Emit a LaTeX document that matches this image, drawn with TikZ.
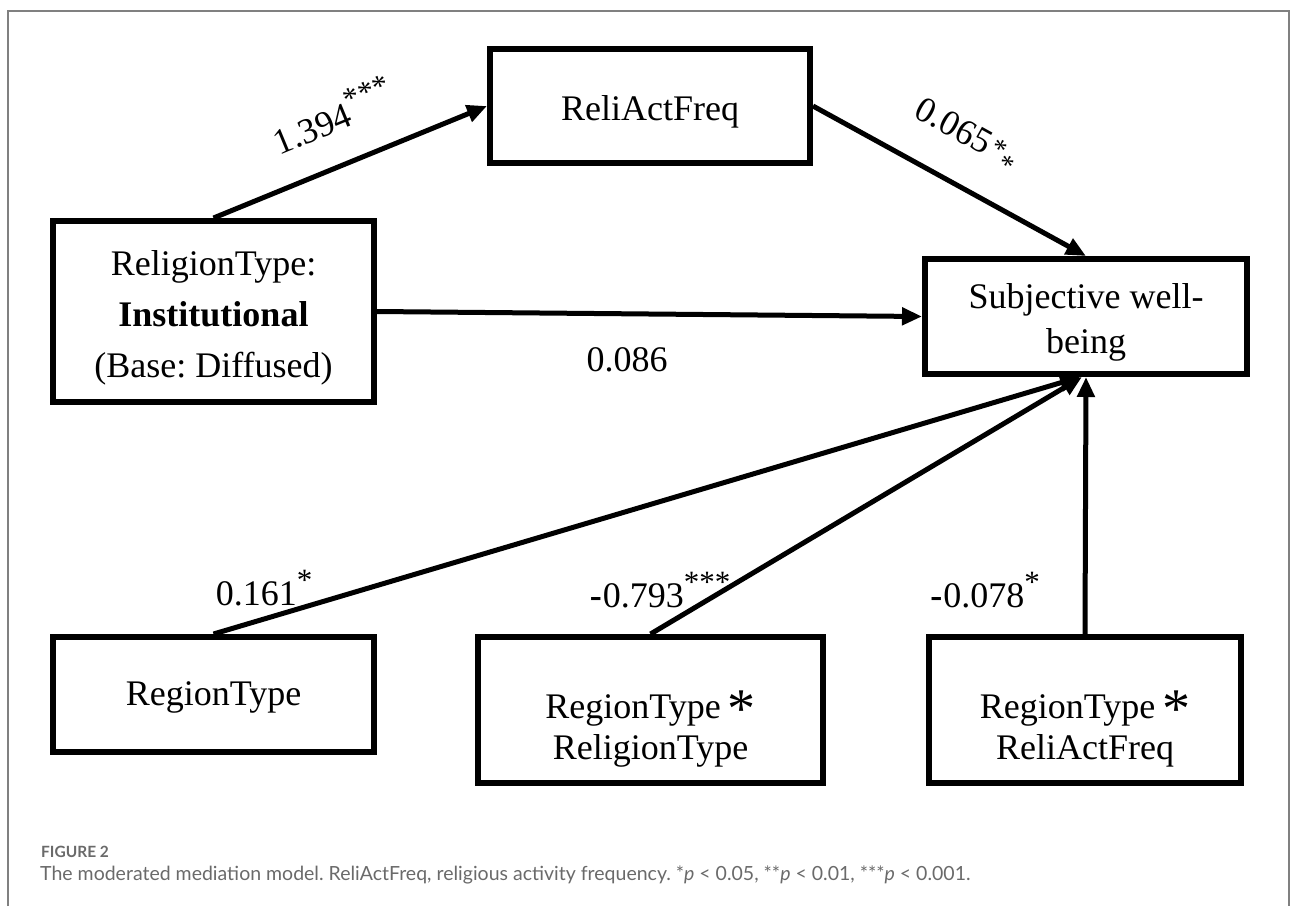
\documentclass[tikz,border=0pt]{standalone}
\usepackage{fontspec}
\setmainfont{Liberation Serif}
\newfontfamily\capfont{Lato}
\usetikzlibrary{arrows.meta}
\frenchspacing
\definecolor{framegray}{HTML}{808080}
\definecolor{capgray}{HTML}{6A6A6A}
\newcommand{\bigast}{\hspace{7pt}\raisebox{-9pt}{\fontsize{56}{56}\selectfont *}}
\newcommand{\stars}[1]{\raisebox{15pt}{\fontsize{31}{31}\selectfont #1}}
\newcommand{\bminus}{\textbf{-}\hspace{1pt}}
\begin{document}
\begin{tikzpicture}[x=1pt,y=-1pt,
  box/.style={draw, line width=6pt, inner sep=0pt},
  boxtext/.style={inner sep=0pt, align=center, font=\fontsize{36}{45}\selectfont},
  arr/.style={line width=5pt, -{Triangle[length=20pt,width=17pt]}},
  lbl/.style={inner sep=0pt, font=\fontsize{36}{40}\selectfont},
  captext/.style={inner sep=0pt, anchor=base west, text=capgray}]
\useasboundingbox (0,0) rectangle (1293,906);
\draw[framegray, line width=1.5pt] (8,906) -- (8,11) -- (1289,11) -- (1289,906);

% boxes
\node[box, minimum width=320pt, minimum height=114pt] (raf) at (650,106) {};
\node[box, minimum width=321pt, minimum height=181pt] (rtype) at (213.5,311.5) {};
\node[box, minimum width=322pt, minimum height=115pt] (swb) at (1086,316.5) {};
\node[box, minimum width=321pt, minimum height=115pt] (region) at (213.5,694.5) {};
\node[box, minimum width=345pt, minimum height=146pt] (int1) at (650.5,710) {};
\node[box, minimum width=312pt, minimum height=146pt] (int2) at (1085,710) {};

% box texts
\node[boxtext] (raft) at (650,112) {ReliActFreq};
\node[boxtext, font=\fontsize{36}{51}\selectfont] (rtypet) at (213.5,318)
  {ReligionType:\\\textbf{Institutional}\\(Base: Diffused)};
\node[boxtext] (swbt) at (1086,322) {Subjective well-\\being};
\node[boxtext] (regiont) at (213.5,697) {RegionType};
\node[boxtext, font=\fontsize{36}{41}\selectfont] (int1t) at (650.5,729) {RegionType\bigast\\ReligionType};
\node[boxtext, font=\fontsize{36}{41}\selectfont] (int2t) at (1085,729) {RegionType\bigast\\ReliActFreq};

% connectors
\draw[arr] (rtype.north) -- (raf.west);
\draw[arr] (raf.east) -- (swb.north);
\draw[arr] (rtype.east) -- (swb.west);
\draw[arr] (region.north) -- ([xshift=-6pt]swb.south);
\draw[arr] (int1.north) -- ([xshift=-4pt]swb.south);
\draw[arr] (int2.north) -- (swb.south);

% coefficient labels
\node[lbl, rotate=22.5] (l1) at (332,115) {1.394\stars{***}};
\node[lbl, rotate=-29] (l2) at (966,136) {0.065\hspace{3pt}\raisebox{4pt}{\fontsize{28}{28}\selectfont *}\raisebox{-7pt}{\fontsize{28}{28}\selectfont *}};
\node[lbl] (l3) at (627,360) {0.086};
\node[lbl] (l4) at (264,588) {0.161\stars{*}};
\node[lbl] (l5) at (660,590) {\bminus 0.793\stars{***}};
\node[lbl] (l6) at (985,590) {\bminus 0.078\stars{*}};

% caption
\node[captext, font=\capfont\bfseries\fontsize{15.5}{15.5}\selectfont] (fig) at (41,857) {FIGURE 2};
\node[captext, font=\capfont\fontsize{19.5}{19.5}\selectfont] (caption) at (40,880)
  {The moderated mediation model. ReliActFreq, religious activity frequency. *\textit{p} < 0.05, **\textit{p} < 0.01, ***\textit{p} < 0.001.};
\end{tikzpicture}
\end{document}
